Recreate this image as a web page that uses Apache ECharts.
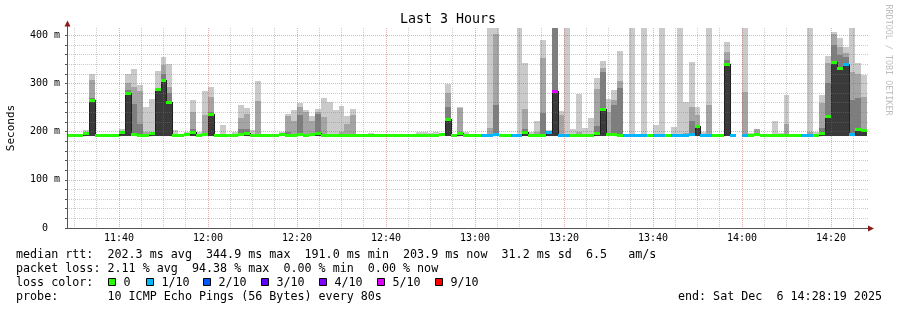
<!DOCTYPE html>
<html><head><meta charset="utf-8">
<script src="https://cdn.jsdelivr.net/npm/echarts@6/dist/echarts.min.js"></script>
<style>html,body{margin:0;padding:0;background:#fff}#c{width:897px;height:310px}</style>
</head><body><div id="c"></div>
<script>
// ---- data ----
const timeLabels = ['11:40','12:00','12:20','12:40','13:00','13:20','13:40','14:00','14:20'];
const yTickLabels = ['0  ','100 m','200 m','300 m','400 m'];
const viewStart = '11:28:19', viewEnd = '14:28:19';
const firstStepStart = '11:28:00';
const stepSeconds = 80;

// top of outer smoke band (ping 10), ping 9 band, ping 8 band, median (ms)
const smokeMax = [
null,null,null,203,319,null,null,null,null,205,
319,329,297,252,268,326,355,340,203,null,
200,266,200,285,293,null,214,196,200,256,
250,203,306,194,null,null,199,237,245,260,
245,232,247,270,261,244,254,232,247,null,
null,198,null,null,195,196,196,null,196,200,
200,198,200,198,298,196,251,200,null,196,
194,420,420,null,null,null,420,343,200,221,
391,203,420,243,420,205,279,207,228,312,
346,267,286,368,195,420,195,420,194,214,
420,196,209,420,262,345,252,200,420,null,
null,386,null,null,420,198,205,194,null,223,
198,277,null,null,null,420,200,275,357,407,
395,376,420,342,317,null];
const smokeP9 = [
null,null,null,null,307,null,null,null,null,null,
301,293,285,200,null,290,338,293,null,null,
null,241,null,234,272,null,null,null,null,228,
237,null,264,null,null,null,null,233,223,252,
240,221,241,231,null,196,200,215,235,null,
null,null,null,null,null,null,null,null,null,null,
null,null,null,null,281,null,248,null,null,null,
null,208,402,null,null,null,null,247,null,200,
352,null,420,234,null,null,200,null,null,288,
331,241,266,304,null,null,null,null,null,null,
null,null,null,null,198,252,235,null,255,null,
null,366,null,null,283,null,205,null,null,null,
null,215,null,null,null,200,null,259,342,402,
376,364,324,319,272,null];
const smokeP8 = [
null,null,null,null,270,null,null,null,null,null,
286,257,215,null,null,289,320,280,null,null,
null,205,null,null,240,null,null,null,null,206,
205,null,null,null,null,null,null,200,null,234,
null,198,236,null,null,null,null,null,null,null,
null,null,null,null,null,null,null,null,null,null,
null,null,null,null,252,null,200,null,null,null,
null,null,255,null,null,null,null,205,null,null,
238,null,420,null,null,null,null,null,null,212,
324,198,255,291,null,null,null,null,null,null,
null,null,null,null,null,222,214,null,null,null,
null,348,null,null,null,null,null,null,null,null,
null,null,null,null,null,null,null,207,300,380,
359,355,266,269,null,null];
const medianRtt = [
192,192,192,197,265,192,192,192,192,199,
281,196,192,192,198,288,308,262,192,192,
196,199,192,195,236,192,192,192,192,196,
197,192,192,192,192,192,196,192,192,196,
192,196,197,192,192,192,192,192,192,192,
192,192,192,192,192,192,192,192,192,192,
192,192,192,196,225.5,192,198,192,192,192,
192,192,195,192,192,192,192,200,192,192,
192,200,285,192,192,192,192,192,192,197,
246,196,194.5,192,192,192,192,192,192,192,
192,192,192,192,192,196,211.7,192,192,192,
192,340,192,null,192,194,196,192,192,192,
194,192,192,192,192,192,192,196.5,233,344.9,
332.6,340,196,205,203.9,null];
const lossTenths = [
0,0,0,0,0,0,0,0,0,0,
0,0,0,0,0,0,0,0,0,0,
0,0,0,0,0,0,0,0,0,0,
0,0,0,0,0,0,0,0,0,0,
0,0,0,0,0,0,0,0,0,0,
0,0,0,0,0,0,0,0,0,0,
0,0,0,0,0,0,0,0,0,0,
1,1,1,0,0,1,1,0,0,0,
0,1,5,1,1,0,0,0,0,0,
0,0,0,0,1,1,1,1,0,1,
1,0,1,1,1,1,0,1,1,0,
0,0,1,0,1,0,0,0,0,0,
0,0,0,0,1,1,0,0,0,0,
0,1,1,0,0,0];
const lossLegend = ['0','1/10','2/10','3/10','4/10','5/10','9/10'];
const lossLegendColors = ['#26ff00','#00b8ff','#0059ff','#5e00ff','#7e00ff','#dd00ff','#ff0000'];
const lossColorOf = {0:'#26ff00',1:'#00b8ff',2:'#0059ff',3:'#5e00ff',4:'#7e00ff',5:'#dd00ff',9:'#ff0000'};
const statsLines = [
  'median rtt:  202.3 ms avg  344.9 ms max  191.0 ms min  203.9 ms now  31.2 ms sd  6.5   am/s',
  'packet loss: 2.11 % avg  94.38 % max  0.00 % min  0.00 % now'
];
const probeLine = 'probe:       10 ICMP Echo Pings (56 Bytes) every 80s';
const endLine = 'end: Sat Dec  6 14:28:19 2025';

// ---- helpers ----
function sec(s){ const p = s.split(':').map(Number); return p[0]*3600 + p[1]*60 + (p[2]||0); }
const T0 = sec(viewStart), T1 = sec(viewEnd), S0 = sec(firstStepStart);
const Y_MAX = 415, SMOKE_FLOOR = 190;
const MONO = '"DejaVu Sans Mono", monospace';

const labelValues = timeLabels.map(sec);
const labelOf = {}; timeLabels.forEach(l => labelOf[sec(l)] = l);
const gridValues = [];
for (let t = Math.ceil(T0/300)*300; t <= T1; t += 300) gridValues.push(t);
const MAJOR = 'rgba(215,60,60,0.42)', MINOR = 'rgba(120,120,120,0.38)';
const xGridColors = gridValues.map(t => (t % 1200 === 0 ? MAJOR : MINOR));

const data = medianRtt.map((m, i) => [S0 + i*stepSeconds, S0 + (i+1)*stepSeconds, i, m == null ? 0 : m]);

function renderBar(params, api){
  const i = api.value(2);
  const t0 = api.value(0), t1 = api.value(1);
  const cs = params.coordSys;
  const left = cs.x, right = cs.x + cs.width;
  const xa = Math.round(Math.max(api.coord([t0, 0])[0], left));
  const xb = Math.round(Math.min(api.coord([t1, 0])[0], right));
  if (xb <= xa) return null;
  const yOf = v => api.coord([t0, Math.min(v, Y_MAX)])[1];
  const yFloor = Math.round(yOf(SMOKE_FLOOR));
  const kids = [];
  const band = (v, fill) => {
    if (v == null) return;
    const yt = Math.round(yOf(v));
    if (yt >= yFloor) return;
    kids.push({type:'rect', shape:{x:xa, y:yt, width:xb-xa, height:yFloor-yt}, style:{fill:fill}});
  };
  band(smokeMax[i], '#cacaca');
  band(smokeP9[i], '#a4a4a4');
  band(smokeP8[i], '#7e7e7e');
  const m = medianRtt[i];
  if (m != null) {
    band(m, '#3a3a3a');
    const ym = Math.round(yOf(m));
    const prev = i > 0 ? medianRtt[i-1] : null;
    if (prev != null && xa > left) {
      const yp = Math.round(yOf(prev));
      if (Math.abs(yp - ym) > 1) kids.push({type:'rect', shape:{x:xa, y:Math.min(yp, ym), width:1, height:Math.abs(yp-ym)+1}, style:{fill:'#202020'}});
    }
    kids.push({type:'rect', shape:{x:xa, y:ym-1, width:xb-xa, height:3}, style:{fill:lossColorOf[lossTenths[i]]}});
  }
  return {type:'group', children:kids};
}

function txt(x, y, s, opt){
  opt = opt || {};
  return {type:'text', x:x, y:y, rotation: opt.rotation || 0, z: 10, silent:true,
    style:{text:s, fill: opt.fill || '#000', font: (opt.size || 11.7) + 'px ' + MONO,
      align: opt.align || 'left', verticalAlign:'middle', textAlign: opt.align || 'left', textVerticalAlign:'middle'}};
}
const graphics = [
  txt(448, 19.5, 'Last 3 Hours', {size:13.3, align:'center'}),
  txt(888, 60, 'RRDTOOL / TOBI OETIKER', {size:8.4, align:'center', fill:'#bdbdbd', rotation:-Math.PI/2}),
  {type:'line', z:10, silent:true, shape:{x1:67.5, y1:28, x2:67.5, y2:23}, style:{stroke:'#555', lineWidth:1}},
  {type:'line', z:10, silent:true, shape:{x1:868, y1:228.5, x2:870, y2:228.5}, style:{stroke:'#555', lineWidth:1}},
  {type:'polygon', z:11, silent:true, shape:{points:[[64.5,26.5],[70.5,26.5],[67.5,20.5]]}, style:{fill:'#8b1a1a'}},
  {type:'polygon', z:11, silent:true, shape:{points:[[868,225.5],[868,231.5],[874,228.5]]}, style:{fill:'#8b1a1a'}},
  txt(16, 255, statsLines[0]),
  txt(16, 269, statsLines[1]),
  txt(16, 283, 'loss color:'),
  txt(16, 297, probeLine),
  txt(882, 297, endLine, {align:'right'})
];
const boxX = [108.5, 146.5, 203.5, 261.5, 319.5, 377.5, 435.5];
lossLegend.forEach((l, k) => {
  graphics.push({type:'rect', z:10, silent:true, shape:{x:boxX[k], y:278.5, width:7, height:7}, style:{fill:lossLegendColors[k], stroke:'#000', lineWidth:1}});
  graphics.push(txt(boxX[k] + 15, 283, l));
});

const chart = echarts.init(document.getElementById('c'), null, {renderer:'canvas', width:897, height:310});
chart.setOption({
  animation:false,
  backgroundColor:'#ffffff',
  grid:{left:67, top:28, width:801, height:200, containLabel:false, outerBoundsMode:'none'},
  xAxis:{
    type:'value', min:T0, max:T1, z:5,
    axisLine:{show:true, onZero:false, lineStyle:{color:'#555', width:1}},
    axisTick:{show:false, customValues:gridValues},
    axisLabel:{customValues:labelValues, formatter: v => labelOf[v] || '', fontFamily:MONO, fontSize:10, color:'#000', margin:5},
    splitLine:{show:true, lineStyle:{color:xGridColors, type:[1,1], width:1}}
  },
  yAxis:{
    type:'value', min:0, max:Y_MAX, interval:20, z:5,
    name:'Seconds', nameLocation:'middle', nameGap:50,
    nameTextStyle:{fontFamily:MONO, fontSize:11, color:'#000'},
    axisLine:{show:true, lineStyle:{color:'#555', width:1}},
    axisTick:{show:true, length:2, lineStyle:{color:'#555'}},
    axisLabel:{formatter: v => (v % 100 === 0 ? yTickLabels[v/100] : ''), showMaxLabel:false, margin:7,
      fontFamily:MONO, fontSize:10, color:'#000'},
    splitLine:{show:true, showMaxLine:false, lineStyle:{color:[MAJOR, MINOR, MINOR, MINOR, MINOR], type:[1,1], width:1}}
  },
  series:[{
    type:'custom', z:1, clip:true,
    renderItem: renderBar,
    encode:{x:[0,1], y:3},
    data:data
  }],
  graphic: graphics
});
</script>
</body></html>
